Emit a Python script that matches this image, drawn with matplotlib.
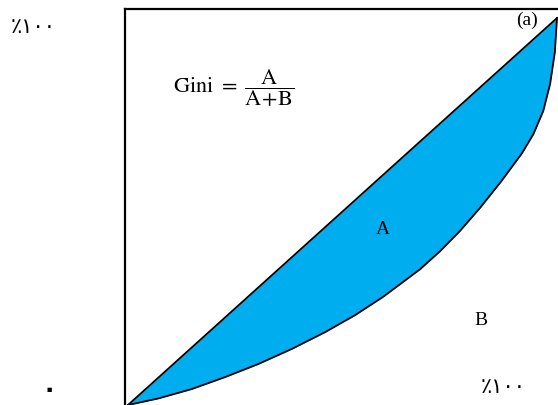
"""
Lorenz curve sketch (panel a): equality diagonal, Lorenz curve, blue area A between them,
Gini = A/(A+B). Axis ends labelled with Arabic-Indic numerals.
"""
import numpy as np
import matplotlib
matplotlib.use("Agg")
import matplotlib.pyplot as plt

# Lorenz curve (share of population -> share of income)
POP = [0, 0.071, 0.148, 0.226, 0.304, 0.382, 0.459, 0.529, 0.594, 0.634, 0.681,
       0.727, 0.774, 0.821, 0.870, 0.918, 0.945, 0.968, 0.984, 0.995, 1.0]
INCOME = [0, 0.017, 0.041, 0.072, 0.106, 0.145, 0.188, 0.232, 0.279, 0.312, 0.351,
          0.397, 0.450, 0.510, 0.578, 0.650, 0.700, 0.760, 0.830, 0.912, 1.0]
EQUALITY = [0, 1.0]

ZERO_LABEL = "\u0660"            # ٠
FULL_LABEL = "\u066a\u0661\u0660\u0660"  # ٪١٠٠
PANEL = "(a)"

BLUE = "#00aeef"
W, H = 558, 406

fig = plt.figure(figsize=(W / 100, H / 100), dpi=100)
ax = fig.add_axes([125 / W, 0, (W - 125) / W, (H - 10) / H])
ax.set_xlim(-3 / 429, 430 / 429)
ax.set_ylim(0, 396 / 387)

x = np.array(POP)
y = np.array(INCOME)
ax.fill_between(x, x, y, color=BLUE, lw=0)
ax.plot(EQUALITY, EQUALITY, color="black", lw=1.3, clip_on=False)
ax.plot(x, y, color="black", lw=1.3, clip_on=False)

for s in ["right", "bottom"]:
    ax.spines[s].set_visible(False)
for s in ["left", "top"]:
    ax.spines[s].set_linewidth(1.6)
ax.set_xticks([]); ax.set_yticks([])

serif = "Liberation Serif"
plt.rcParams["mathtext.fontset"] = "stix"
ax.text(0.93, 0.997, PANEL, family=serif, fontsize=14, ha="center", va="center")
ax.text(0.594, 0.455, "A", family=serif, fontsize=14, ha="center", va="center")
ax.text(0.822, 0.222, "B", family=serif, fontsize=14, ha="center", va="center")
ax.text(0.105, 0.82, r"$\mathrm{Gini}\ =\ \dfrac{\mathrm{A}}{\mathrm{A\!+\!B}}$",
        fontsize=16, ha="left", va="center")

fig.text(33 / W, 1 - 27 / H, FULL_LABEL, family="DejaVu Sans", fontsize=15,
         ha="center", va="center")
fig.text(503 / W, 1 - 387 / H, FULL_LABEL, family="DejaVu Sans", fontsize=15,
         ha="center", va="center")
fig.text(49 / W, 1 - 390 / H, ZERO_LABEL, family="DejaVu Sans", fontsize=18,
         weight="bold", ha="center", va="center")

fig.savefig("out.png", dpi=100)
